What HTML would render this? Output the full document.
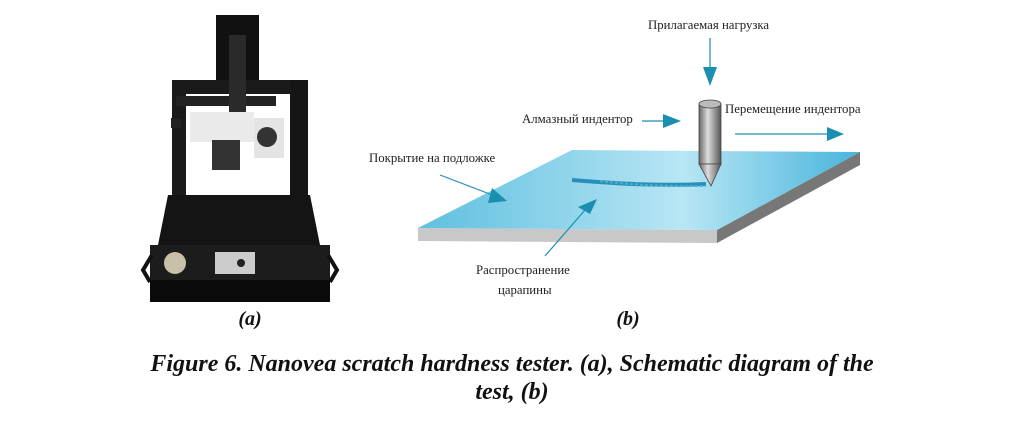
<!DOCTYPE html>
<html><head><meta charset="utf-8"><style>
body{margin:0;width:1024px;height:430px;background:#fff;overflow:hidden;position:relative;font-family:"Liberation Serif",serif}
.t{position:absolute;font-size:12.8px;color:#222;white-space:nowrap}
.cap{position:absolute;left:0;width:1024px;text-align:center;font-weight:bold;font-style:italic;font-size:24px;color:#111}
</style></head><body>
<svg width="1024" height="430" style="position:absolute;left:0;top:0">
<defs>
<linearGradient id="pl" x1="0" y1="0" x2="1" y2="0"><stop offset="0" stop-color="#5fbfe0"/><stop offset="0.6" stop-color="#b8e6f4"/><stop offset="1" stop-color="#48b4dc"/></linearGradient>
<linearGradient id="cy" x1="0" y1="0" x2="1" y2="0"><stop offset="0" stop-color="#666"/><stop offset="0.4" stop-color="#ddd"/><stop offset="1" stop-color="#555"/></linearGradient>
</defs>
<!-- machine (a) -->
<rect x="216" y="15" width="43" height="70" fill="#111"/>
<rect x="172" y="80" width="134" height="14" fill="#1a1a1a"/>
<rect x="172" y="80" width="14" height="118" fill="#1a1a1a"/>
<rect x="290" y="80" width="18" height="118" fill="#151515"/>
<rect x="176" y="96" width="100" height="10" fill="#222"/>
<rect x="229" y="35" width="17" height="80" fill="#2a2a2a"/>
<rect x="171" y="118" width="10" height="10" fill="#222"/>
<rect x="190" y="112" width="64" height="30" fill="#eaeaea"/>
<rect x="254" y="118" width="30" height="40" fill="#e4e4e4"/>
<circle cx="267" cy="137" r="10" fill="#333"/>
<rect x="212" y="140" width="28" height="30" fill="#333"/>
<rect x="222" y="195" width="30" height="40" fill="#222"/>
<polygon points="168,195 310,195 320,245 158,245" fill="#141414"/>
<rect x="150" y="245" width="180" height="50" fill="#1c1c1c"/>
<rect x="150" y="280" width="180" height="22" fill="#0a0a0a"/>
<path d="M152,255 L143,270 L150,282" stroke="#111" stroke-width="4" fill="none"/>
<path d="M328,255 L337,270 L330,282" stroke="#111" stroke-width="4" fill="none"/>
<circle cx="175" cy="263" r="11" fill="#c9c0a8"/>
<rect x="215" y="252" width="40" height="22" fill="#ccc"/>
<circle cx="241" cy="263" r="4" fill="#222"/>
<!-- plate (b) -->
<polygon points="418,228 717,230 717,243 418,241" fill="#c8c8c8"/>
<polygon points="717,230 860,152 860,165 717,243" fill="#777"/>
<polygon points="572,150 860,152 717,230 418,228" fill="url(#pl)"/>
<path d="M572,180 C620,184 660,186 706,184" stroke="#2a8fb8" stroke-width="4" fill="none"/>
<path d="M600,181 C640,186 670,186 706,186" stroke="#4ab0d0" stroke-width="2" fill="none" stroke-dasharray="3 2"/>
<!-- indenter -->
<rect x="699" y="104" width="22" height="60" fill="url(#cy)" stroke="#444" stroke-width="0.8"/>
<ellipse cx="710" cy="104" rx="11" ry="4" fill="#bbb" stroke="#444" stroke-width="0.8"/>
<polygon points="699,164 721,164 711,186" fill="url(#cy)" stroke="#444" stroke-width="0.8"/>
<!-- arrows -->
<g fill="#1a8fb0" stroke="#1a8fb0" stroke-width="1.2">
<line x1="710" y1="38" x2="710" y2="70"/><polygon points="703,67 717,67 710,86" stroke="none"/>
<line x1="642" y1="121" x2="665" y2="121"/><polygon points="663,114 663,128 681,121" stroke="none"/>
<line x1="735" y1="134" x2="830" y2="134"/><polygon points="827,127 827,141 844,134" stroke="none"/>
<line x1="440" y1="175" x2="495" y2="196"/><polygon points="492,188 488,203 507,201" stroke="none"/>
<line x1="545" y1="256" x2="585" y2="210"/><polygon points="578,207 590,214 597,199" stroke="none"/>
</g>
</svg>
<div class="t" style="left:648px;top:18px">Прилагаемая нагрузка</div>
<div class="t" style="left:522px;top:112px">Алмазный индентор</div>
<div class="t" style="left:725px;top:102px">Перемещение индентора</div>
<div class="t" style="left:369px;top:151px">Покрытие на подложке</div>
<div class="t" style="left:476px;top:263px">Распространение</div>
<div class="t" style="left:498px;top:283px">царапины</div>
<div class="cap" style="top:308px;left:-262px;font-size:20px">(a)</div>
<div class="cap" style="top:308px;left:116px;font-size:20px">(b)</div>
<div class="cap" style="top:351px">Figure 6. Nanovea scratch hardness tester. (a), Schematic diagram of the</div>
<div class="cap" style="top:379px">test, (b)</div>
</body></html>
